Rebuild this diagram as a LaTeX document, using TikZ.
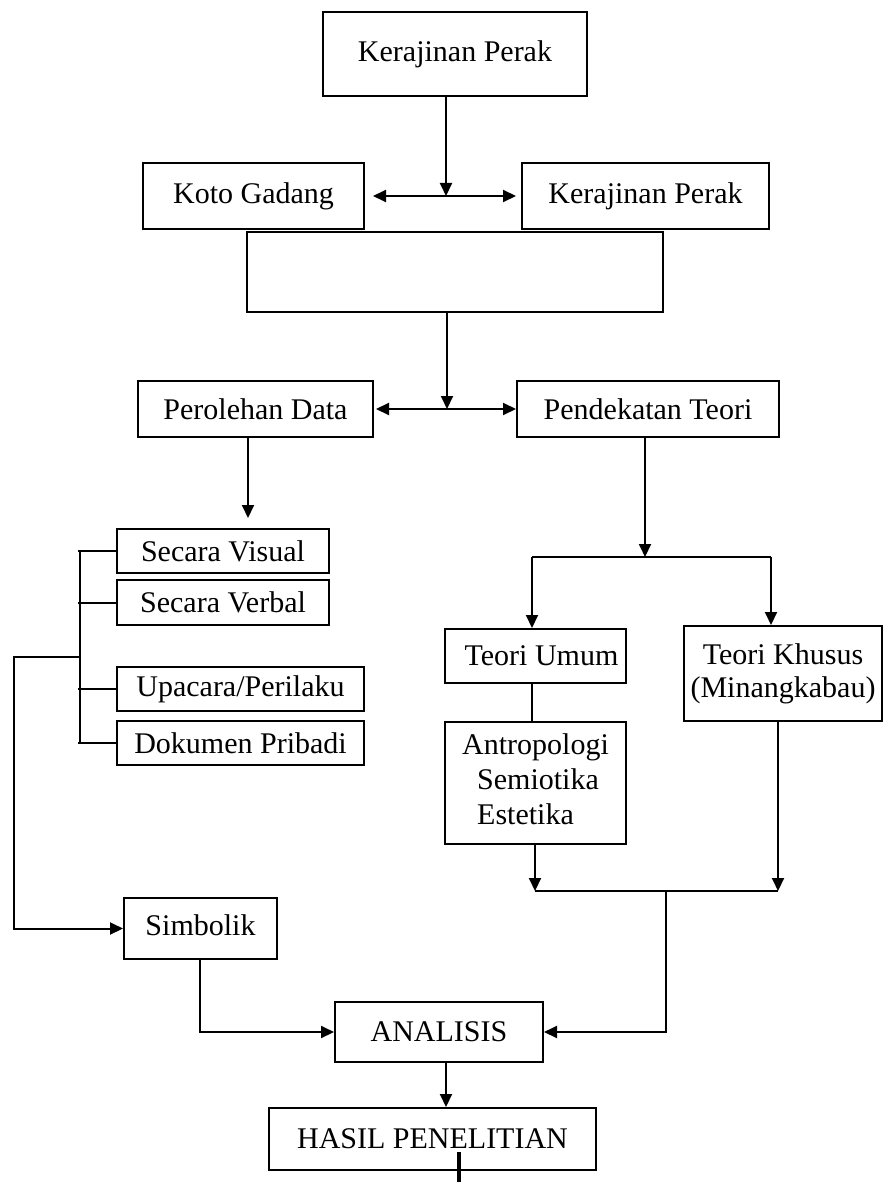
\documentclass[tikz,border=0pt]{standalone}
\usepackage{fontspec}
\setmainfont{Liberation Serif}
\usetikzlibrary{arrows.meta}
\begin{document}
\begin{tikzpicture}[x=1pt,y=-1pt,
  box/.style={draw,line width=2pt,inner sep=0pt,font=\fontsize{30}{33}\selectfont,align=center},
  ln/.style={line width=2pt},
  arr/.style={ln,-{Triangle[length=13pt,width=12pt]}},
  darr/.style={ln,{Triangle[length=13pt,width=12pt]}-{Triangle[length=13pt,width=12pt]}},
  thickln/.style={line width=3.5pt}
]
\useasboundingbox[fill=white] (0,0) rectangle (883,1182);

% boxes
\node[box,minimum width=264pt,minimum height=84pt] (top) at (455,54) {Kerajinan Perak};
\node[box,minimum width=416pt,minimum height=80pt] (empty) at (455,272) {};
\node[box,fill=white,minimum width=221pt,minimum height=66pt] (koto) at (253.5,196) {Koto Gadang};
\node[box,fill=white,minimum width=247pt,minimum height=66pt] (kp) at (645.5,196) {Kerajinan Perak};
\node[box,minimum width=235pt,minimum height=56pt] (pd) at (255.5,409) {Perolehan Data};
\node[box,minimum width=262pt,minimum height=56pt] (pt) at (648,409) {Pendekatan Teori};
\node[box,minimum width=212pt,minimum height=44pt] (sv) at (223,551) {Secara Visual};
\node[box,minimum width=212pt,minimum height=45pt] (sve) at (223,602.5) {Secara Verbal};
\node[box,minimum width=247pt,minimum height=44pt] (up) at (240.5,689) {Upacara/Perilaku};
\node[box,minimum width=247pt,minimum height=44pt] (dok) at (240.5,743) {Dokumen Pribadi};
\node[box,minimum width=153pt,minimum height=61pt] (sim) at (200.5,928.5) {\raisebox{6pt}{Simbolik}};
\node[box,minimum width=181pt,minimum height=54pt] (tu) at (535.5,656) {\hspace{12pt}Teori Umum};
\node[box,minimum width=198pt,minimum height=95pt] (tk) at (783,673.5) {Teori Khusus\\(Minangkabau)};
\node[box,minimum width=181pt,minimum height=122pt] (ant) at (535.5,783)
  {\begin{tabular}{@{}l@{}}Antropologi\\[2pt]\hspace{15pt}Semiotika\\[2pt]\hspace{15pt}Estetika\end{tabular}};
\node[box,minimum width=208pt,minimum height=60pt] (an) at (439,1032) {ANALISIS};
\node[box,minimum width=327pt,minimum height=62pt] (hasil) at (432.5,1139) {HASIL PENELITIAN};

% junction coordinates
\coordinate (j1) at (446,196);
\coordinate (j2) at (447,409);
\coordinate (c1) at (248,0);
\coordinate (bx) at (80,550);
\coordinate (bxb) at (80,743);
\coordinate (tk0) at (78,0);
\coordinate (bj) at (80,657);
\coordinate (bl) at (14,657);
\coordinate (sx) at (200,0);
\coordinate (pj) at (645,557);
\coordinate (pl) at (532,557);
\coordinate (pr) at (771,557);
\coordinate (mj1) at (535,891);
\coordinate (mj2) at (778,891);
\coordinate (mj) at (666,891);
\coordinate (ax) at (446,0);
\coordinate (tt) at (459,1152);
\coordinate (tb) at (459,1182);

% top connectors
\draw[arr] (j1 |- top.south) -- (j1);
\draw[darr,shorten <=8pt,shorten >=5pt] (koto.east) -- (kp.west);
\draw[arr] (j2 |- empty.south) -- (j2);
\draw[darr,shorten <=2pt] (pd.east) -- (pt.west);

% left branch
\draw[arr,shorten >=10pt] (c1 |- pd.south) -- (c1 |- sv.north);
\draw[ln] (bx) -- (bxb);
\draw[ln] (tk0 |- sv.west) -- (sv.west);
\draw[ln] (tk0 |- sve.west) -- (sve.west);
\draw[ln] (tk0 |- up.west) -- (up.west);
\draw[ln] (tk0 |- dok.west) -- (dok.west);
\draw[arr] (bj) -- (bl) -- (bl |- sim.west) -- (sim.west);
\draw[arr] (sx |- sim.south) -- (sx |- an.west) -- (an.west);

% right branch
\draw[arr] (pj |- pt.south) -- (pj);
\draw[ln] (pl) -- (pr);
\draw[arr] (pl) -- (pl |- tu.north);
\draw[arr] (pr) -- (pr |- tk.north);
\draw[ln] (pl |- tu.south) -- (pl |- ant.north);
\draw[arr] (mj1 |- ant.south) -- (mj1);
\draw[arr] (mj2 |- tk.south) -- (mj2);
\draw[ln] (mj1) -- (mj2);
\draw[arr] (mj) -- (mj |- an.east) -- (an.east);

% bottom
\draw[arr] (ax |- an.south) -- (ax |- hasil.north);
\draw[thickln] (tt) -- (tb);
\end{tikzpicture}
\end{document}
